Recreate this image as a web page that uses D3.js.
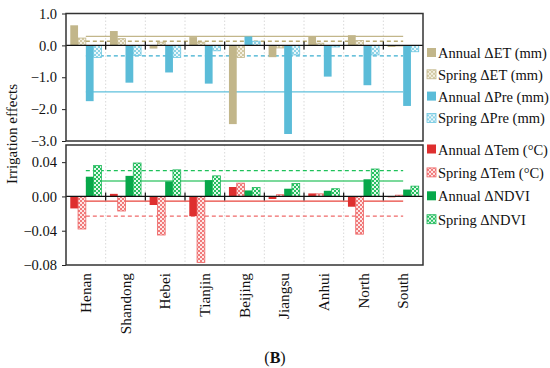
<!DOCTYPE html>
<html>
<head>
<meta charset="utf-8">
<script src="https://cdn.jsdelivr.net/npm/d3@7"></script>
<style>
  body { margin: 0; background: #fff; }
  svg { display: block; font-family: "Liberation Serif", "Times New Roman", serif; }
</style>
</head>
<body>
<div id="chart"></div>
<script>
// Categories
var regions = ["Henan", "Shandong", "Hebei", "Tianjin", "Beijing", "Jiangsu", "Anhui", "North", "South"];

// Top panel series (mm)
var annualET  = [0.63, 0.45, -0.10, 0.26, -2.47, -0.37, 0.28, 0.32, -0.05];
var springET  = [0.23, 0.21, 0.10, 0.10, -0.38, -0.08, 0.07, 0.15, -0.02];
var annualPre = [-1.75, -1.17, -0.85, -1.20, 0.28, -2.78, -0.98, -1.25, -1.90];
var springPre = [-0.38, -0.32, -0.38, -0.17, 0.13, -0.30, -0.05, -0.30, -0.20];

// Bottom panel series
var annualTem  = [-0.014, 0.003, -0.010, -0.023, 0.011, -0.003, 0.0035, -0.012, -0.001];
var springTem  = [-0.038, -0.017, -0.045, -0.077, 0.0155, 0.002, 0.003, -0.044, 0.0015];
var annualNDVI = [0.023, 0.024, 0.0175, 0.019, 0.007, 0.009, 0.0066, 0.020, 0.008];
var springNDVI = [0.036, 0.039, 0.031, 0.024, 0.0105, 0.015, 0.009, 0.032, 0.012];

// Mean reference lines
var topMeans = [
    { value: 0.28,  color: "#c2b68a", dash: null },
    { value: 0.13,  color: "#b8a970", dash: "4,3" },
    { value: -0.33, color: "#3aaed0", dash: "4,3" },
    { value: -1.46, color: "#5ec0dc", dash: null }
];
var bottomMeans = [
    { value: 0.030,   color: "#1ec15a", dash: "4,3" },
    { value: 0.018,   color: "#4fcc7a", dash: null },
    { value: -0.0055, color: "#e8453c", dash: null },
    { value: -0.023,  color: "#ef6a6a", dash: "4,3" }
];

var topTicks = [1, 0, -1, -2, -3];
var bottomTicks = [0.04, 0, -0.04, -0.08];

var width = 550, height = 368;
var left = 66, right = 423;

var svg = d3.select("#chart").append("svg")
    .attr("width", width)
    .attr("height", height);

var defs = svg.append("defs");

// checkered pattern for the spring bars
function makePattern(id, color, light) {
    var p = defs.append("pattern")
        .attr("id", id)
        .attr("patternUnits", "userSpaceOnUse")
        .attr("width", 4)
        .attr("height", 4);
    p.append("rect").attr("width", 4).attr("height", 4).attr("fill", light);
    p.append("rect").attr("width", 2).attr("height", 2).attr("fill", color);
    p.append("rect").attr("x", 2).attr("y", 2).attr("width", 2).attr("height", 2).attr("fill", color);
}
makePattern("pET", "#d2c9a4", "#f4f0e2");
makePattern("pPre", "#8fd3e6", "#eaf7fb");
makePattern("pTem", "#f07a7a", "#fde6e6");
makePattern("pNDVI", "#25c060", "#e2f7e9");

var x = d3.scaleBand()
    .domain(regions)
    .range([left, right])
    .padding(0);

var keys = ["a", "b", "c", "d"];
var xs = d3.scaleBand()
    .domain(keys)
    .range([0, x.bandwidth()])
    .paddingOuter(0.55)
    .paddingInner(0);

function fmtMinus(s) { return s.replace("-", "\u2212"); }

function drawPanel(cfg) {
    var y = d3.scaleLinear().domain(cfg.domain).range([cfg.bottom, cfg.top]);
    var g = svg.append("g");

    // dotted grid at category boundaries
    g.append("g").selectAll("line")
        .data(regions.slice(1))
        .enter().append("line")
            .attr("x1", function(d) { return x(d); })
            .attr("x2", function(d) { return x(d); })
            .attr("y1", cfg.top)
            .attr("y2", cfg.bottom)
            .attr("stroke", "#cfcfcf")
            .attr("stroke-width", 0.8)
            .attr("stroke-dasharray", "1.5,2");

    // mean lines
    g.append("g").selectAll("line")
        .data(cfg.means)
        .enter().append("line")
            .attr("x1", x(regions[0]) + x.bandwidth() / 2)
            .attr("x2", x(regions[regions.length - 1]) + x.bandwidth() / 2)
            .attr("y1", function(d) { return y(d.value); })
            .attr("y2", function(d) { return y(d.value); })
            .attr("stroke", function(d) { return d.color; })
            .attr("stroke-width", 1.3)
            .attr("stroke-dasharray", function(d) { return d.dash; });

    // bars
    cfg.series.forEach(function(s, i) {
        g.append("g").selectAll("rect")
            .data(s.values)
            .enter().append("rect")
                .attr("x", function(d, j) { return x(regions[j]) + xs(keys[i]); })
                .attr("width", xs.bandwidth())
                .attr("y", function(d) { return y(Math.max(0, d)); })
                .attr("height", function(d) { return Math.abs(y(d) - y(0)); })
                .attr("fill", s.fill)
                .attr("stroke", s.stroke || "none")
                .attr("stroke-width", s.stroke ? 0.8 : 0);
    });

    // zero line with ticks at boundaries
    g.append("line")
        .attr("x1", left).attr("x2", right)
        .attr("y1", y(0)).attr("y2", y(0))
        .attr("stroke", "#111").attr("stroke-width", 1.2);
    g.append("g").selectAll("line")
        .data(regions.slice(1))
        .enter().append("line")
            .attr("x1", function(d) { return x(d); })
            .attr("x2", function(d) { return x(d); })
            .attr("y1", y(0) - 4)
            .attr("y2", y(0) + 4)
            .attr("stroke", "#111")
            .attr("stroke-width", 1.2);

    // y axis
    var ax = g.append("g")
        .attr("transform", "translate(" + left + ",0)")
        .call(d3.axisLeft(y)
            .tickValues(cfg.ticks)
            .tickSize(4)
            .tickPadding(5)
            .tickFormat(function(d) { return fmtMinus(cfg.fmt(d)); }));
    ax.select(".domain").remove();
    ax.selectAll("line").attr("stroke", "#222");
    ax.selectAll("text")
        .attr("font-size", 14.5)
        .attr("fill", "#111")
        .attr("font-family", "Liberation Serif, Times New Roman, serif");

    // frame
    g.append("rect")
        .attr("x", left).attr("y", cfg.top)
        .attr("width", right - left).attr("height", cfg.bottom - cfg.top)
        .attr("fill", "none")
        .attr("stroke", "#333")
        .attr("stroke-width", 1.5);

    // legend
    var lg = g.append("g").selectAll("g")
        .data(cfg.series)
        .enter().append("g")
            .attr("transform", function(d, i) { return "translate(427," + (cfg.legendY + i * cfg.legendStep) + ")"; });
    lg.append("rect")
        .attr("x", 0).attr("y", -5)
        .attr("width", 9).attr("height", 9)
        .attr("fill", function(d) { return d.fill; })
        .attr("stroke", function(d) { return d.stroke || "none"; })
        .attr("stroke-width", 0.8);
    lg.append("text")
        .attr("x", 11)
        .attr("y", 5)
        .attr("font-size", 14.5)
        .attr("fill", "#111")
        .text(function(d) { return d.label; });
}

drawPanel({
    domain: [-3, 1], top: 13.5, bottom: 141,
    ticks: topTicks, fmt: d3.format(".1f"),
    means: topMeans,
    legendY: 53, legendStep: 21.8,
    series: [
        { values: annualET,  fill: "#c2b68a", label: "Annual \u0394ET (mm)" },
        { values: springET,  fill: "url(#pET)", stroke: "#c2b68a", label: "Spring \u0394ET  (mm)" },
        { values: annualPre, fill: "#5bbcd8", label: "Annual \u0394Pre (mm)" },
        { values: springPre, fill: "url(#pPre)", stroke: "#6cc6e0", label: "Spring \u0394Pre  (mm)" }
    ]
});

drawPanel({
    domain: [-0.08, 0.06], top: 145, bottom: 265,
    ticks: bottomTicks, fmt: d3.format(".2f"),
    means: bottomMeans,
    legendY: 149.5, legendStep: 23.4,
    series: [
        { values: annualTem,  fill: "#de2f2f", label: "Annual \u0394Tem (\u00b0C)" },
        { values: springTem,  fill: "url(#pTem)", stroke: "#ee6464", label: "Spring \u0394Tem (\u00b0C)" },
        { values: annualNDVI, fill: "#07a84a", label: "Annual \u0394NDVI" },
        { values: springNDVI, fill: "url(#pNDVI)", stroke: "#1fb85a", label: "Spring \u0394NDVI" }
    ]
});

// category labels, rotated
svg.append("g").selectAll("text")
    .data(regions)
    .enter().append("text")
        .attr("transform", function(d) { return "translate(" + (x(d) + x.bandwidth() / 2 + 5) + ",273) rotate(-90)"; })
        .attr("text-anchor", "end")
        .attr("font-size", 15.3)
        .attr("fill", "#111")
        .text(function(d) { return d; });

// y title
svg.append("text")
    .attr("transform", "translate(17,134) rotate(-90)")
    .attr("text-anchor", "middle")
    .attr("font-size", 15)
    .attr("fill", "#111")
    .text("Irrigation effects");

// panel caption
svg.append("text")
    .attr("x", 275)
    .attr("y", 363)
    .attr("text-anchor", "middle")
    .attr("font-size", 16)
    .attr("fill", "#111")
    .html("(<tspan font-weight='bold'>B</tspan>)");
</script>
</body>
</html>
